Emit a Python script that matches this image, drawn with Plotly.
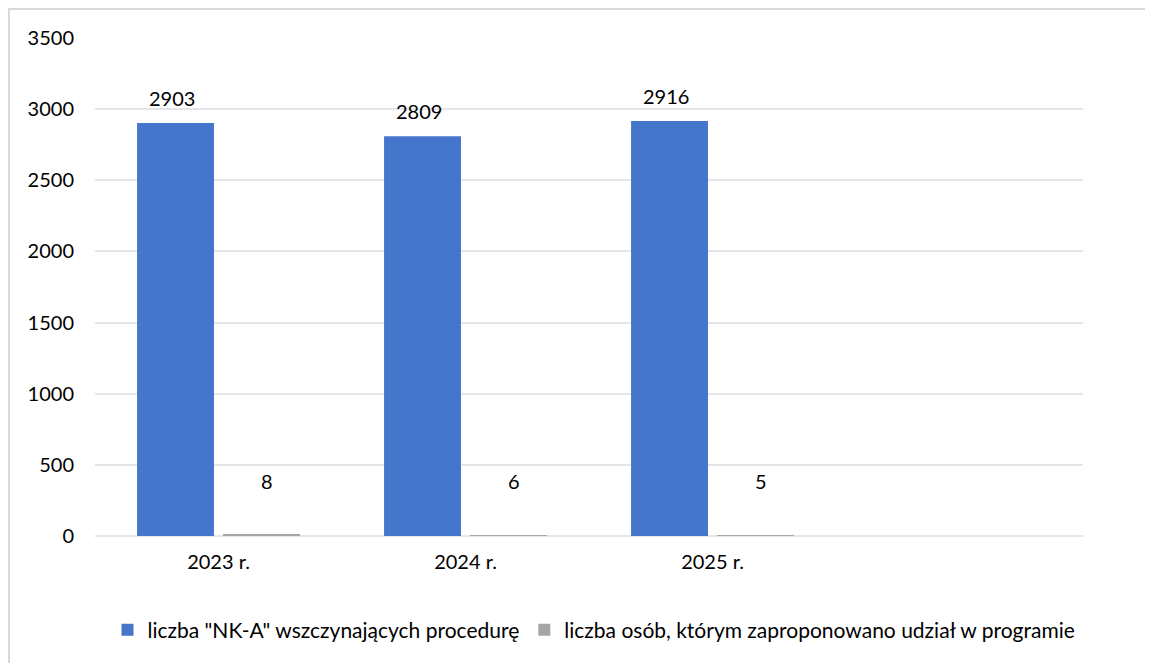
import plotly.graph_objects as go

categories = ["2023 r.", "2024 r.", "2025 r."]
series_names = ['liczba "NK-A" wszczynających procedurę',
                'liczba osób, którym zaproponowano udział w programie']
nka_values = [2903, 2809, 2916]
offered_values = [8, 6, 5]

FONT = "Lato"
OFF = 8  # page body margin
W, H = 1153 - OFF, 663 - OFF
L, T = 95 - OFF, 38 - OFF
pw, ph = 988, 498
R, B = W - L - pw, H - T - ph

fig = go.Figure()
fig.add_trace(go.Bar(x=categories, y=nka_values, name=series_names[0],
                     marker=dict(color="#4676cc", line=dict(width=0))))
fig.add_trace(go.Bar(x=categories, y=offered_values, name=series_names[1],
                     marker=dict(color="#a6a6a6", line=dict(width=0))))

# data labels
for c, v in zip(categories, nka_values):
    fig.add_annotation(x=c, y=v, text=str(v), showarrow=False, xshift=-47, yshift=25,
                       font=dict(family=FONT, size=20, color="#000"))
for c, v in zip(categories, offered_values):
    fig.add_annotation(x=c, y=v, text=str(v), showarrow=False, xshift=48, yshift=54,
                       font=dict(family=FONT, size=20, color="#000"))

# chart-area border
fig.add_shape(type="rect", xref="paper", yref="paper",
              x0=(1 - L) / pw, x1=(W + 20 - L) / pw,
              y0=(T + ph - (H + 20)) / ph, y1=(T + ph - 1) / ph,
              line=dict(color="#d9d9d9", width=2), fillcolor="rgba(0,0,0,0)", layer="below")

fig.update_layout(
    width=W, height=H,
    margin=dict(l=L, r=R, t=T, b=B, autoexpand=False),
    paper_bgcolor="white", plot_bgcolor="white",
    barmode="group", bargap=0.304, bargroupgap=0.105,
    font=dict(family=FONT, size=20, color="#000"),
    showlegend=True,
    legend=dict(orientation="h", xref="container", yref="container",
                x=(594 - OFF) / W, xanchor="center",
                y=(H - (630 - OFF)) / H, yanchor="middle",
                font=dict(family=FONT, size=21), itemsizing="constant",
                itemwidth=30, tracegroupgap=0,
                bgcolor="rgba(0,0,0,0)"),
    xaxis=dict(range=[-0.5, 3.5], showgrid=False, showline=False, ticks="",
               tickfont=dict(family=FONT, size=20), ticklabelstandoff=12),
    yaxis=dict(range=[0, 3500], dtick=500, showgrid=True, gridcolor="#e4e6ea", gridwidth=2,
               zeroline=True, zerolinecolor="#e4e6ea", zerolinewidth=2, showline=False,
               ticks="", tickfont=dict(family=FONT, size=20), ticklabelstandoff=20),
)

fig.write_html("out.html")
